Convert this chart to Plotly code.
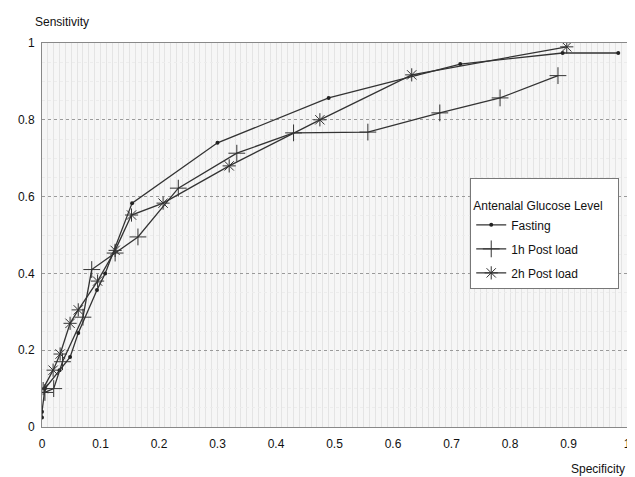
import plotly.graph_objects as go

# Data (Specificity on x, Sensitivity on y)
fasting_x = [0.0, 0.0, 0.005, 0.03, 0.048, 0.062, 0.094, 0.108, 0.154, 0.30, 0.49, 0.715, 0.89, 0.985]
fasting_y = [0.025, 0.04, 0.10, 0.148, 0.182, 0.245, 0.357, 0.40, 0.583, 0.74, 0.857, 0.945, 0.974, 0.974]

h1_x = [0.005, 0.02, 0.035, 0.07, 0.085, 0.125, 0.164, 0.233, 0.333, 0.43, 0.557, 0.68, 0.783, 0.882]
h1_y = [0.09, 0.10, 0.17, 0.286, 0.41, 0.453, 0.495, 0.622, 0.713, 0.766, 0.768, 0.818, 0.857, 0.915]

h2_x = [0.002, 0.019, 0.031, 0.048, 0.062, 0.095, 0.125, 0.153, 0.207, 0.32, 0.475, 0.632, 0.897]
h2_y = [0.10, 0.148, 0.19, 0.27, 0.305, 0.38, 0.46, 0.552, 0.583, 0.68, 0.80, 0.917, 0.99]

x_ticks = [0, 0.1, 0.2, 0.3, 0.4, 0.5, 0.6, 0.7, 0.8, 0.9, 1]
x_labels = ["0", "0.1", "0.2", "0.3", "0.4", "0.5", "0.6", "0.7", "0.8", "0.9", "1"]
y_ticks = [0, 0.2, 0.4, 0.6, 0.8, 1]
y_labels = ["0", "0.2", "0.4", "0.6", "0.8", "1"]

LINE = "#333333"
FONT = "Liberation Sans, Arial, sans-serif"

fig = go.Figure()
fig.add_trace(go.Scatter(
    x=fasting_x, y=fasting_y, mode="lines+markers", name="Fasting", legendgroup="a",
    line=dict(color=LINE, width=1.3),
    marker=dict(symbol="circle", size=4, color="#222"),
))
fig.add_trace(go.Scatter(
    x=h1_x, y=h1_y, mode="lines+markers", name="1h Post load", legendgroup="b",
    line=dict(color=LINE, width=1.3),
    marker=dict(symbol="cross-thin", size=12, line=dict(color="#333", width=1)),
))
fig.add_trace(go.Scatter(
    x=h2_x, y=h2_y, mode="lines+markers", name="2h Post load", legendgroup="c",
    line=dict(color=LINE, width=1.3),
    marker=dict(symbol="asterisk-open", size=11, line=dict(color="#333", width=1)),
))

# The page body has an 8px margin, so the figure is sized to fit the window.
fig.update_layout(
    width=627, height=469,
    margin=dict(l=34, r=8, t=35, b=50, autoexpand=False),
    paper_bgcolor="white",
    plot_bgcolor="#f6f6f6",
    font=dict(family=FONT, size=12, color="#111"),
    showlegend=True,
    legend=dict(
        x=0.732, y=0.648, xanchor="left", yanchor="top",
        bgcolor="white", bordercolor="#777", borderwidth=1,
        title=dict(text="<br>Antenalal Glucose Level&nbsp;&nbsp;&nbsp;&nbsp;",
                   font=dict(size=12, family=FONT, color="#111")),
        font=dict(size=12, family=FONT, color="#111"),
        itemwidth=30, tracegroupgap=5,
    ),
    xaxis=dict(
        range=[0, 1], tickvals=x_ticks, ticktext=x_labels,
        showgrid=False, zeroline=False, automargin=False,
        showline=True, linecolor="#888", linewidth=1, mirror=True,
        ticks="", ticklabelstandoff=6,
        minor=dict(dtick=0.01, showgrid=True, gridcolor="#e4e4e4", gridwidth=1),
    ),
    yaxis=dict(
        range=[0, 1], tickvals=y_ticks, ticktext=y_labels,
        showgrid=True, gridcolor="#9a9a9a", griddash="dot", gridwidth=1,
        zeroline=False, automargin=False,
        showline=True, linecolor="#888", linewidth=1, mirror=True,
        ticks="", ticklabelstandoff=4,
        minor=dict(dtick=0.05, showgrid=True, gridcolor="#ececec", gridwidth=1),
    ),
    annotations=[
        dict(text="Sensitivity", xref="paper", yref="paper", x=-0.015, y=1.0,
             xanchor="left", yanchor="bottom", yshift=12, showarrow=False,
             font=dict(size=12, family=FONT, color="#111")),
        dict(text="Specificity", xref="paper", yref="paper", x=1.0, y=0.0,
             xanchor="right", yanchor="top", yshift=-33, showarrow=False,
             font=dict(size=12, family=FONT, color="#111")),
    ],
)

fig.write_html("out.html")
